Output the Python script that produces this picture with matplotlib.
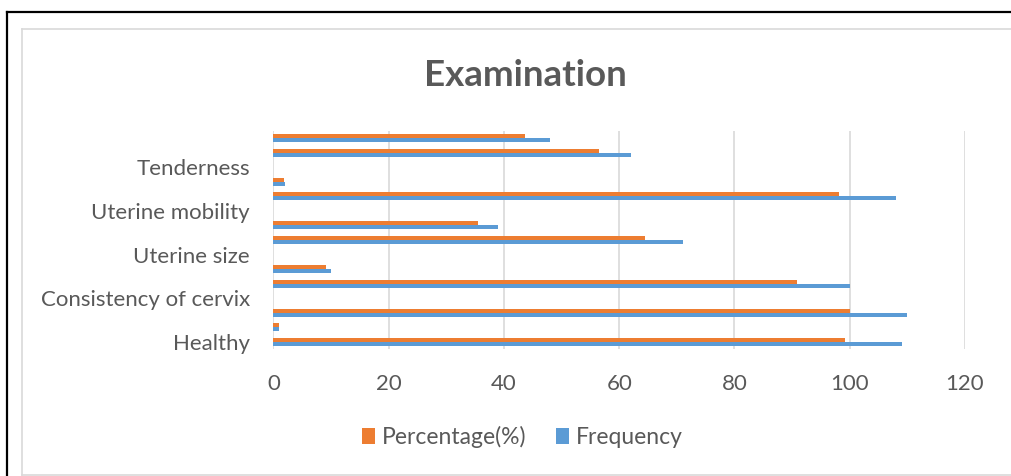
import matplotlib
matplotlib.use("Agg")
import matplotlib.pyplot as plt
from matplotlib.lines import Line2D
from matplotlib.patches import Patch
import numpy as np

# ---- data (bottom to top) ----
categories = ["Healthy", "", "", "Consistency of cervix", "", "", "Uterine size", "", "",
              "Uterine mobility", "", "", "Tenderness", "", ""]
percentage = [99.1, 0.9, 100, np.nan, 90.9, 9.1, np.nan, 64.5, 35.5, np.nan, 98.2, 1.8, np.nan, 56.4, 43.6]
frequency = [109, 1, 110, np.nan, 100, 10, np.nan, 71, 39, np.nan, 108, 2, np.nan, 62, 48]
xticks = [0, 20, 40, 60, 80, 100, 120]
title = "Examination"
series_names = ["Percentage(%)", "Frequency"]

ORANGE = "#ED7D31"
BLUE = "#5B9BD5"
GRAY_TXT = "#595959"
GRID = "#D9D9D9"

plt.rcParams["font.family"] = ["Lato", "DejaVu Sans"]

W, H = 1012, 476
fig = plt.figure(figsize=(W / 100, H / 100), dpi=100)

def fx(px):
    return px / W

def fy(py):
    return 1 - py / H

ax_left, ax_right, ax_top, ax_bottom = 273.5, 965, 130.7, 349.3
ax = fig.add_axes([fx(ax_left), fy(ax_bottom), fx(ax_right) - fx(ax_left), fy(ax_top) - fy(ax_bottom)])

y = np.arange(len(categories))
bh = 0.275
ax.barh(y + bh / 2, percentage, height=bh, color=ORANGE, label=series_names[0], zorder=3)
ax.barh(y - bh / 2, frequency, height=bh, color=BLUE, label=series_names[1], zorder=3)

ax.set_xlim(0, 120)
ax.set_ylim(-0.5, len(categories) - 0.5)
ax.set_xticks(xticks)
ax.set_xticklabels([str(t) for t in xticks])
label_idx = [i for i, c in enumerate(categories) if c]
ax.set_yticks(label_idx)
ax.set_yticklabels([categories[i] for i in label_idx])
ax.tick_params(axis="both", length=0, labelsize=16, colors=GRAY_TXT)
ax.tick_params(axis="y", pad=17)
ax.tick_params(axis="x", pad=18)
for s in ax.spines.values():
    s.set_visible(False)
ax.grid(axis="x", color=GRID, linewidth=1.2, zorder=0)
ax.set_axisbelow(True)

fig.text(fx(525), fy(75), title, ha="center", va="center", fontsize=26.5,
         fontweight="bold", color=GRAY_TXT)

handles = [Patch(facecolor=ORANGE), Patch(facecolor=BLUE)]
fig.legend(handles, series_names, loc="center", bbox_to_anchor=(fx(522.5), fy(437)),
           ncol=2, frameon=False, fontsize=16.5, labelcolor=GRAY_TXT,
           handlelength=0.55, handleheight=0.65, handletextpad=0.3, columnspacing=1.3)

# borders
fig.add_artist(Line2D([fx(7), fx(7)], [fy(12), 0], color="black", lw=1.6, transform=fig.transFigure))
fig.add_artist(Line2D([fx(7), 1], [fy(12), fy(12)], color="black", lw=1.6, transform=fig.transFigure))
fig.add_artist(Line2D([fx(22), fx(22)], [fy(29), fy(475)], color=GRID, lw=1.2, transform=fig.transFigure))
fig.add_artist(Line2D([fx(22), 1], [fy(29), fy(29)], color=GRID, lw=1.2, transform=fig.transFigure))
fig.add_artist(Line2D([fx(22), 1], [fy(475), fy(475)], color=GRID, lw=1.2, transform=fig.transFigure))

fig.savefig("out.png", dpi=100)
